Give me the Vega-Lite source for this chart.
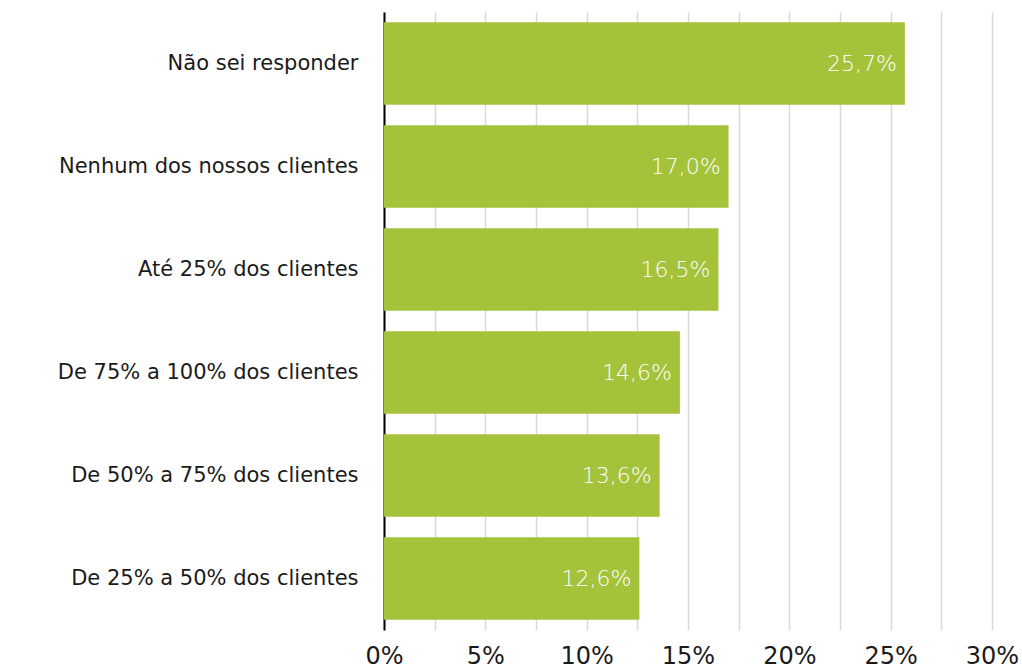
{
  "$schema": "https://vega.github.io/schema/vega-lite/v6.json",
  "width": 608,
  "height": 618,
  "autosize": {"type": "none"},
  "padding": {"left": 384, "top": 12, "right": 30, "bottom": 41},
  "background": "white",
  "config": {
    "view": {"stroke": null},
    "font": "DejaVu Sans",
    "locale": {"number": {"decimal": ",", "thousands": ".", "grouping": [3], "currency": ["R$", ""]}}
  },
  "data": {
    "values": [
      {"categoria": "Não sei responder", "valor": 0.257},
      {"categoria": "Nenhum dos nossos clientes", "valor": 0.170},
      {"categoria": "Até 25% dos clientes", "valor": 0.165},
      {"categoria": "De 75% a 100% dos clientes", "valor": 0.146},
      {"categoria": "De 50% a 75% dos clientes", "valor": 0.136},
      {"categoria": "De 25% a 50% dos clientes", "valor": 0.126}
    ]
  },
  "encoding": {
    "y": {
      "field": "categoria",
      "type": "nominal",
      "sort": null,
      "scale": {"paddingInner": 0.2, "paddingOuter": 0.1},
      "axis": {
        "title": null,
        "domainColor": "#000000",
        "domainWidth": 2,
        "ticks": false,
        "labelFontSize": 21,
        "labelColor": "#1a1a1a",
        "labelPadding": 26,
        "labelLimit": 400
      }
    },
    "x": {
      "field": "valor",
      "type": "quantitative",
      "scale": {"domain": [0, 0.3], "nice": false},
      "axis": {
        "title": null,
        "values": [0, 0.025, 0.05, 0.075, 0.1, 0.125, 0.15, 0.175, 0.2, 0.225, 0.25, 0.275, 0.3],
        "labelExpr": "(round(datum.value * 1000) % 50 === 0) ? datum.label : ''",
        "format": ".0%",
        "domain": false,
        "ticks": false,
        "grid": true,
        "gridColor": "#d9d9d9",
        "gridWidth": 1.5,
        "labelFontSize": 24,
        "labelColor": "#1a1a1a",
        "labelPadding": 14,
        "labelFlush": false
      }
    }
  },
  "layer": [
    {"mark": {"type": "bar", "color": "#a4c23a"}},
    {
      "mark": {"type": "text", "align": "right", "dx": -8, "color": "white", "fontSize": 22, "fontWeight": 200},
      "encoding": {"text": {"field": "valor", "type": "quantitative", "format": ".1%"}}
    }
  ]
}
